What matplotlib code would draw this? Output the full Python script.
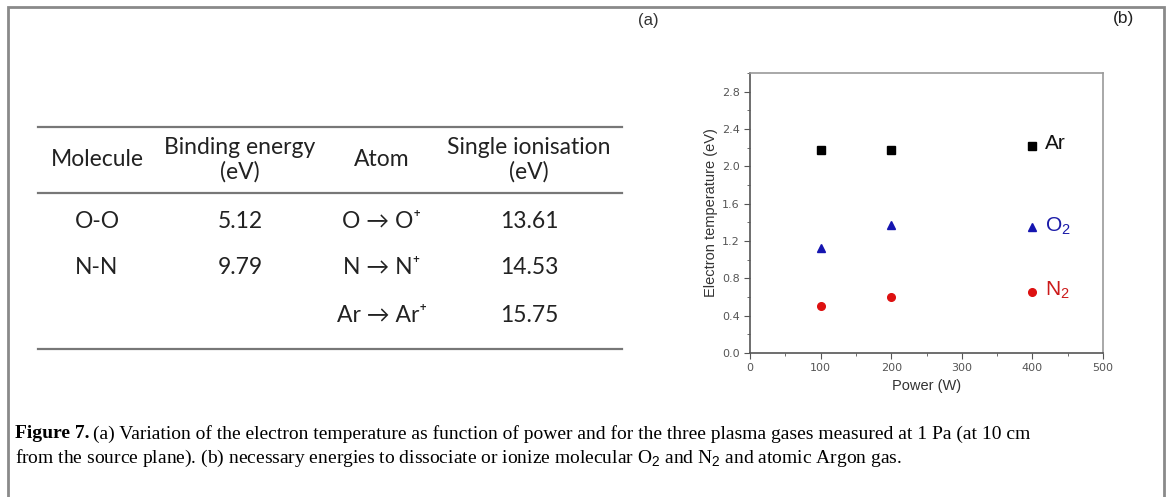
import numpy as np
import matplotlib.pyplot as plt
from matplotlib.ticker import MultipleLocator
from matplotlib.patches import Rectangle

plt.rcParams['mathtext.fontset'] = 'custom'
plt.rcParams['mathtext.rm'] = 'Liberation Sans'

# data for panel (b)
power = [100, 200, 400]
te_ar = [2.18, 2.17, 2.22]
te_o2 = [1.13, 1.37, 1.35]
te_n2 = [0.50, 0.60, 0.65]

# table (a)
headers = ['Molecule', 'Binding energy\n(eV)', 'Atom', 'Single ionisation\n(eV)']
molecules = ['O-O', 'N-N', '']
binding = ['5.12', '9.79', '']
atoms = ['O \u2192 O\u207a', 'N \u2192 N\u207a', 'Ar \u2192 Ar\u207a']
ionisation = ['13.61', '14.53', '15.75']

fig = plt.figure(figsize=(11.68, 4.97), dpi=100)
W, H = 1168, 497

def fx(px):
    return px / W

def fy(py):
    return 1 - py / H

# outer frame
fig.patches.append(Rectangle((fx(8), fy(500)), fx(1164) - fx(8), fy(7) - fy(500),
                             transform=fig.transFigure, fill=False,
                             edgecolor='#8a8a8a', lw=2))

# table
tfont = 'Lato'
for yy in [127, 193, 349]:
    fig.add_artist(plt.Line2D([fx(38), fx(622)], [fy(yy), fy(yy)],
                              transform=fig.transFigure, color='#777777', lw=1.6))
col_x = [97, 240, 382, 529]
for x, h in zip(col_x, headers):
    fig.text(fx(x), fy(160), h, ha='center', va='center', fontsize=16.5,
             family=tfont, color='#222222', linespacing=1.15)
row_y = [222, 268, 315]
for i, y in enumerate(row_y):
    for x, val in zip(col_x, [molecules[i], binding[i], atoms[i], ionisation[i]]):
        fig.text(fx(x), fy(y), val, ha='center', va='center', fontsize=16.5,
                 family=[tfont, 'DejaVu Sans'], color='#222222')

fig.text(fx(648), fy(20), '(a)', ha='center', va='center', fontsize=12,
         family='Liberation Sans', color='#333333')
fig.text(fx(1124), fy(18), '(b)', ha='center', va='center', fontsize=12.5,
         family='Liberation Sans', color='#222222')

# panel (b)
ax = fig.add_axes([fx(750), fy(353), fx(1103) - fx(750), fy(73) - fy(353)])
ax.plot(power, te_ar, 's', color='black', ms=5.5)
ax.plot(power, te_o2, '^', color='#1515b0', ms=6)
ax.plot(power, te_n2, 'o', color='#dd1111', ms=5.5)
ax.set_xlim(0, 500)
ax.set_ylim(0, 3.0)
ax.xaxis.set_major_locator(MultipleLocator(100))
ax.xaxis.set_minor_locator(MultipleLocator(50))
ax.yaxis.set_minor_locator(MultipleLocator(0.2))
ax.set_yticks(np.arange(0, 2.9, 0.4))
ax.tick_params(which='both', direction='out', colors='#555555', labelsize=8,
               labelcolor='#555555')
ax.tick_params(which='major', length=4)
ax.tick_params(which='minor', length=2.5)
ax.yaxis.set_major_formatter(plt.FuncFormatter(lambda v, p: '%.1f' % v))
for s in ['left', 'bottom']:
    ax.spines[s].set_color('#555555')
    ax.spines[s].set_linewidth(1.2)
for s in ['top', 'right']:
    ax.spines[s].set_color('#9a9a9a')
    ax.spines[s].set_linewidth(1.2)
ax.set_xlabel('Power (W)', fontsize=10.5, family='Liberation Sans', color='#333333', labelpad=4)
ax.set_ylabel('Electron temperature (eV)', fontsize=10.5, family='Liberation Sans',
              color='#333333', labelpad=3)

ax.text(418, 2.24, 'Ar', fontsize=15, family='Liberation Sans', color='#111111', va='center')
ax.text(418, 1.36, 'O$_2$', fontsize=15, family='Liberation Sans', color='#1a1aa8', va='center')
ax.text(418, 0.67, 'N$_2$', fontsize=15, family='Liberation Sans', color='#cc1a1a', va='center')

# caption
cap1 = ('(a) Variation of the electron temperature as function of power and for the three '
        'plasma gases measured at 1 Pa (at 10 cm')
cap2 = ('from the source plane). (b) necessary energies to dissociate or ionize molecular '
        'O$_2$ and N$_2$ and atomic Argon gas.')
cfs = 14
t = fig.text(fx(15), fy(434), 'Figure 7.', fontsize=cfs, family='Liberation Serif',
             weight='bold', va='center')
fig.canvas.draw()
bb = t.get_window_extent()
fig.text(bb.x1 / W + 0.003, fy(434), cap1, fontsize=cfs, family='Liberation Serif', va='center')
fig.text(fx(15), fy(458), cap2, fontsize=cfs, family='Liberation Serif', va='center')

fig.savefig('out.png', dpi=100)
